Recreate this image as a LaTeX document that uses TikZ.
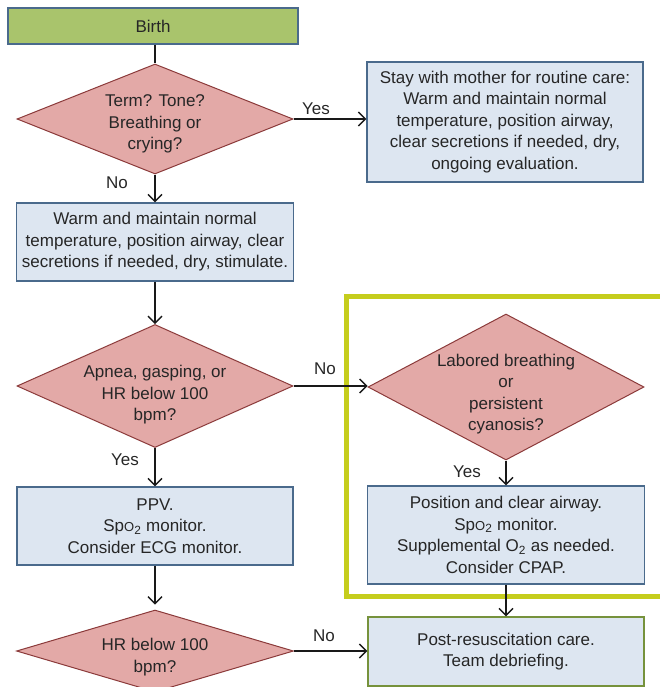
\documentclass[tikz,border=0pt]{standalone}
\usepackage{fontspec}
\setmainfont{Liberation Sans}
\usetikzlibrary{shapes.geometric,arrows.meta}
\definecolor{dfill}{HTML}{E3A9A7}
\definecolor{dline}{HTML}{8B3A3A}
\definecolor{bfill}{HTML}{DDE6F1}
\definecolor{bline}{HTML}{4A6A8C}
\definecolor{gfill}{HTML}{A9C46C}
\definecolor{framecol}{HTML}{C5CD1D}
\definecolor{pline}{HTML}{76923C}
\definecolor{txt}{HTML}{262626}
\tikzset{
  every node/.style={font=\fontsize{17}{21.5}\selectfont, text=txt},
  box/.style={draw=bline, line width=1.2pt, fill=bfill, inner sep=0pt, align=center},
  dia/.style={diamond, draw=dline, line width=1pt, fill=dfill, inner sep=0pt, aspect=2},
  dtext/.style={align=center, inner sep=0pt},
  lbl/.style={inner sep=0pt},
  conn/.style={draw=black!90, line width=1.4pt, -{Straight Barb[length=7pt,width=14pt]}},
  plain/.style={draw=black!90, line width=1.4pt}
}
\begin{document}
\begin{tikzpicture}[x=1pt,y=-1pt]
\useasboundingbox (0,0) rectangle (660,687);
\clip (0,0) rectangle (660,687);
% frame
\draw[framecol, line width=5pt] (346,296) rectangle (690,596);
% nodes
\node[box, fill=gfill, minimum width=290pt, minimum height=36pt] (birth) at (153,26) {Birth};
\node[dia, minimum width=276pt, minimum height=110pt] (d1) at (155,119) {};
\node[dtext] (d1t) at ([yshift=-5pt]d1.center) {Term? Tone?\\Breathing or\\crying?};
\node[box, minimum width=276pt, minimum height=120pt] (stay) at (505,122) {Stay with mother for routine care:\\Warm and maintain normal\\temperature, position airway,\\clear secretions if needed, dry,\\ongoing evaluation.};
\node[box, minimum width=277pt, minimum height=78pt] (warm) at (155,242) {Warm and maintain normal\\temperature, position airway, clear\\secretions if needed, dry, stimulate.};
\node[dia, minimum width=276pt, minimum height=123pt] (d2) at (155,386) {};
\node[dtext] (d2t) at ([yshift=-9pt]d2.center) {Apnea, gasping, or\\HR below 100\\bpm?};
\node[dia, minimum width=276pt, minimum height=146pt] (d3) at (506,387) {};
\node[dtext] (d3t) at ([yshift=-7pt]d3.center) {Labored breathing\\or\\persistent\\cyanosis?};
\node[box, minimum width=276pt, minimum height=78pt] (ppv) at (155,526) {PPV.\\Sp{\fontsize{13}{13}\selectfont O}\textsubscript{2} monitor.\\Consider ECG monitor.};
\node[box, minimum width=277pt, minimum height=98pt] (pos) at (506,535) {Position and clear airway.\\Sp{\fontsize{13}{13}\selectfont O}\textsubscript{2} monitor.\\Supplemental O\textsubscript{2} as needed.\\Consider CPAP.};
\node[dia, minimum width=277pt, minimum height=82pt] (d4) at (155,651) {};
\node[dtext] (d4t) at ([yshift=-6pt]d4.center) {HR below 100\\bpm?};
\node[box, draw=pline, minimum width=276pt, minimum height=69pt] (post) at (506,651.5) {Post-resuscitation care.\\Team debriefing.};
% labels
\node[lbl] (y1) at (316,109) {Yes};
\node[lbl] (n1) at (117,183) {No};
\node[lbl] (n2) at (325,369) {No};
\node[lbl] (y2) at (125,460) {Yes};
\node[lbl] (y3) at (467,472) {Yes};
\node[lbl] (n3) at (324,636) {No};
% connectors
\draw[plain] (birth.south -| d1.north) -- (d1.north);
\draw[conn] (d1.east) -- (d1.east -| stay.west);
\draw[conn] (d1.south) -- (warm.north);
\draw[conn] (warm.south) -- (d2.north);
\draw[conn] (d2.east) -- (d2.east -| d3.west);
\draw[conn] (d2.south) -- (ppv.north);
\draw[conn] (d3.south) -- (pos.north);
\draw[conn] (ppv.south) -- ([yshift=5pt]d4.north);
\draw[conn] (pos.south) -- (post.north);
\draw[conn] (d4.east) -- (d4.east -| post.west);
\end{tikzpicture}
\end{document}
